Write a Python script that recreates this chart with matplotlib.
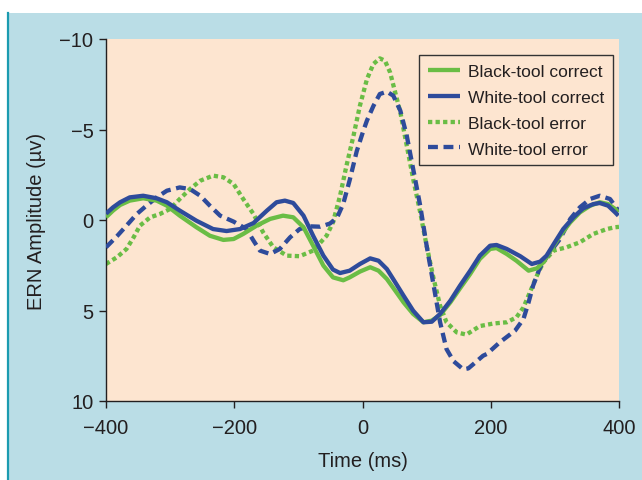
import matplotlib
matplotlib.use("Agg")
import matplotlib.pyplot as plt
from matplotlib.patches import Rectangle
from matplotlib.lines import Line2D

plt.rcParams["font.family"] = ["Liberation Sans", "DejaVu Sans"]

# ---- data (time in ms, amplitude in µV) ----
black_correct_t = [-400, -389, -378, -363, -342, -321, -305, -285, -259, -238, -217, -201,
                   -186, -165, -144, -124, -108, -92, -77, -61, -46, -30, -20, -4,
                   12, 25, 38, 51, 64, 79, 95, 108, 121, 137, 152, 168, 183, 199,
                   209, 225, 240, 259, 272, 282, 295, 308, 324, 339, 355, 370, 383, 394, 399]
black_correct_v = [-0.15, -0.52, -0.83, -1.07, -1.2, -1.07, -0.79, -0.24, 0.4, 0.87, 1.1, 1.05,
                   0.77, 0.31, -0.06, -0.24, -0.15, 0.4, 1.42, 2.52, 3.17, 3.33, 3.17, 2.85,
                   2.61, 2.8, 3.26, 3.9, 4.55, 5.19, 5.65, 5.56, 5.25, 4.55, 3.78, 2.98, 2.15, 1.6,
                   1.55, 1.88, 2.25, 2.8, 2.67, 2.34, 1.6, 0.87, 0.13, -0.42, -0.79, -0.98, -0.88, -0.61, -0.42]

white_correct_t = [-400, -389, -378, -363, -342, -321, -305, -285, -259, -233, -212, -191,
                   -170, -149, -134, -121, -108, -92, -77, -61, -46, -35, -20, -4,
                   12, 25, 38, 51, 64, 79, 95, 108, 121, 137, 152, 168, 183, 199,
                   209, 225, 246, 264, 277, 287, 300, 313, 329, 344, 360, 370, 383, 394, 399]
white_correct_v = [-0.35, -0.7, -0.98, -1.25, -1.34, -1.2, -0.98, -0.52, 0.04, 0.5, 0.61, 0.5,
                   0.17, -0.52, -0.98, -1.07, -0.94, -0.24, 0.87, 1.97, 2.74, 2.93, 2.8, 2.43,
                   2.12, 2.25, 2.71, 3.44, 4.18, 5.01, 5.65, 5.62, 5.19, 4.46, 3.63, 2.8, 1.97, 1.42,
                   1.38, 1.6, 2.0, 2.43, 2.3, 1.97, 1.23, 0.5, -0.15, -0.64, -0.88, -0.94, -0.79, -0.42, -0.24]

black_error_t = [-400, -383, -368, -357, -347, -331, -316, -300, -285, -269, -253, -233,
                 -217, -201, -186, -170, -155, -139, -118, -98, -77, -56, -46, -35,
                 -25, -14, -4, 7, 17, 27, 35, 43, 51, 59, 69, 79, 90, 100, 111,
                 121, 131, 147, 162, 183, 204, 225, 240, 251, 261, 272, 282, 298, 318, 339,
                 360, 381, 394, 400]
black_error_v = [2.43, 2.06, 1.6, 0.96, 0.31, -0.15, -0.33, -0.61, -1.16, -1.71, -2.17, -2.45,
                 -2.36, -1.99, -1.16, -0.33, 0.68, 1.51, 1.97, 2.0, 1.69, 0.87, 0.13, -1.34,
                 -3.0, -4.66, -6.32, -7.79, -8.62, -8.93, -8.8, -8.16, -7.05, -5.95, -4.11, -2.27, -0.42, 1.42, 3.26,
                 4.73, 5.65, 6.21, 6.33, 5.86, 5.72, 5.65, 5.38, 4.83, 4.0, 3.07, 2.34, 1.69, 1.51, 1.23,
                 0.77, 0.5, 0.4, 0.38]

white_error_t = [-400, -383, -368, -352, -337, -321, -305, -285, -269, -253, -238, -222,
                 -201, -181, -170, -160, -144, -129, -113, -98, -82, -66, -51, -40,
                 -30, -20, -9, 1, 7, 17, 27, 38, 48, 59, 69, 79, 90, 100, 111,
                 121, 131, 142, 157, 165, 173, 188, 194, 214, 238, 251, 259, 266, 277, 292,
                 308, 324, 339, 355, 370, 386, 399]
white_error_v = [1.51, 0.9, 0.31, -0.33, -0.79, -1.25, -1.62, -1.8, -1.71, -1.34, -0.79, -0.24,
                 0.09, 0.5, 1.14, 1.69, 1.88, 1.6, 0.96, 0.5, 0.35, 0.37, 0.2, -0.1,
                 -0.9, -2.2, -3.8, -4.9, -5.5, -6.3, -6.96, -7.09, -6.87, -6.04, -4.66, -2.82, -0.79, 1.42, 3.63,
                 5.65, 7.13, 7.8, 8.25, 8.2, 7.96, 7.5, 7.4, 6.76, 6.11, 5.47, 4.55, 3.63, 2.61, 1.79,
                 1.05, -0.06, -0.7, -1.16, -1.34, -1.16, -0.52]

series_labels = ["Black-tool correct", "White-tool correct", "Black-tool error", "White-tool error"]
x_ticks = [-400, -200, 0, 200, 400]
y_ticks = [-10, -5, 0, 5, 10]

# ---- styling ----
GREEN = "#6abd45"
BLUE = "#2e4b9b"
BG_BLUE = "#badde6"
PEACH = "#fde5d0"
TEAL = "#1b9bb0"
TEXT = "#231f20"

W, H = 642, 481
fig = plt.figure(figsize=(W / 100, H / 100), dpi=100, facecolor="white")

# panel background and left rule (behind the axes)
fig.add_artist(Rectangle((7 / W, 0), 1 - 7 / W, 1 - 14 / H, transform=fig.transFigure,
                         facecolor=BG_BLUE, edgecolor="none", zorder=-10))
fig.add_artist(Line2D([7.5 / W, 7.5 / W], [0, 1 - 14 / H], transform=fig.transFigure,
                      color=TEAL, linewidth=1.6, zorder=-5))

ax = fig.add_axes([106 / W, 1 - 402 / H, 513 / W, 362 / H])
ax.set_facecolor(PEACH)

lw = 3.1
ax.plot(black_error_t, black_error_v, color=GREEN, linewidth=lw, linestyle=(0, (1.0, 0.75)),
        label=series_labels[2], zorder=2)
ax.plot(white_error_t, white_error_v, color=BLUE, linewidth=lw, linestyle=(0, (2.3, 1.3)),
        label=series_labels[3], zorder=3)
ax.plot(black_correct_t, black_correct_v, color=GREEN, linewidth=lw,
        label=series_labels[0], zorder=4, solid_capstyle="butt")
ax.plot(white_correct_t, white_correct_v, color=BLUE, linewidth=lw,
        label=series_labels[1], zorder=5, solid_capstyle="butt")

ax.set_xlim(-400, 400)
ax.set_ylim(10, -10)
ax.set_xticks(x_ticks)
ax.set_yticks(y_ticks)
ax.tick_params(direction="out", length=5, width=1, colors=TEXT, labelsize=14.5)
ax.tick_params(axis="x", pad=7.5)
ax.tick_params(axis="y", pad=4)

for side in ("top", "right"):
    ax.spines[side].set_visible(False)
for side in ("left", "bottom"):
    ax.spines[side].set_color(TEXT)
    ax.spines[side].set_linewidth(1.0)

ax.set_xlabel("Time (ms)", fontsize=14.5, color=TEXT, labelpad=10)
ax.set_ylabel("ERN Amplitude (µv)", fontsize=14.5, color=TEXT, labelpad=10)

handles, labels = ax.get_legend_handles_labels()
order = [labels.index(l) for l in series_labels]
leg = ax.legend([handles[i] for i in order], [labels[i] for i in order],
                loc="upper right", bbox_to_anchor=(0.988, 0.956), fontsize=12.5,
                frameon=True, fancybox=False, handlelength=1.85, handletextpad=0.45,
                labelspacing=0.62, borderpad=0.5, borderaxespad=0, labelcolor=TEXT)
leg.get_frame().set_facecolor(PEACH)
leg.get_frame().set_edgecolor("#333333")
leg.get_frame().set_linewidth(1.0)
leg.get_frame().set_alpha(1.0)

fig.savefig("out.png", dpi=100, facecolor=fig.get_facecolor())
